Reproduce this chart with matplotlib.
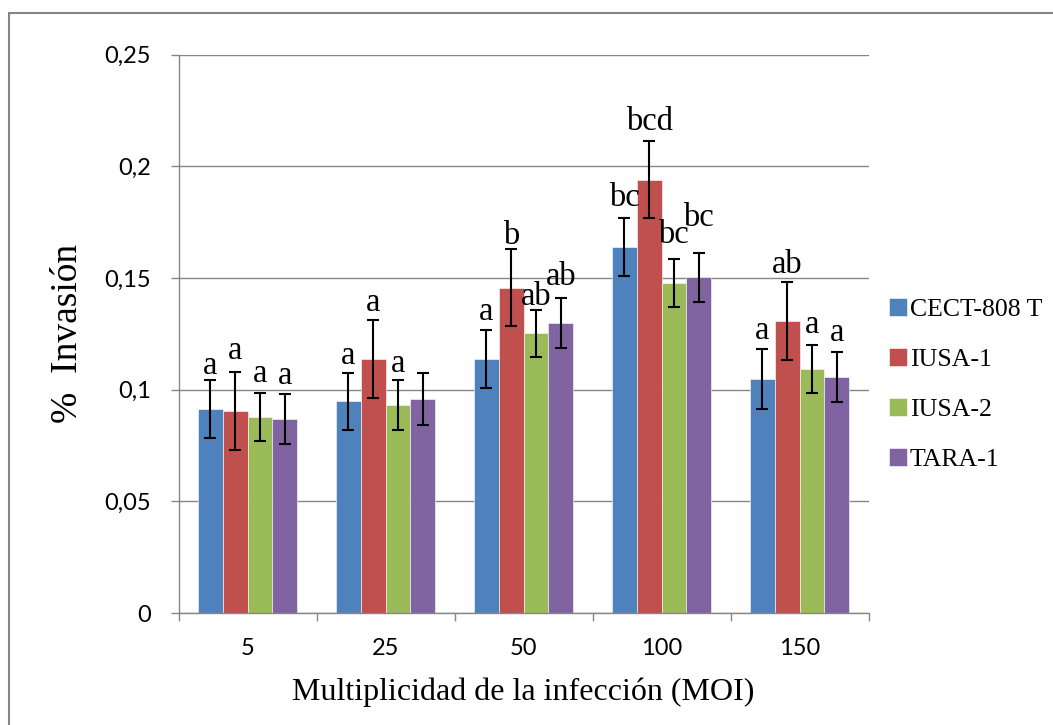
import matplotlib
matplotlib.use("Agg")
import matplotlib.pyplot as plt
from matplotlib.patches import Rectangle
import numpy as np

categories = ["5", "25", "50", "100", "150"]
series_names = ["CECT-808 T", "IUSA-1", "IUSA-2", "TARA-1"]
colors = ["#4F81BD", "#C0504D", "#9BBB59", "#8064A2"]

cect = [0.0913, 0.0948, 0.1137, 0.1637, 0.1047]
iusa1 = [0.0904, 0.1137, 0.1457, 0.1940, 0.1308]
iusa2 = [0.0877, 0.0932, 0.1253, 0.1477, 0.1092]
tara1 = [0.0868, 0.0957, 0.1298, 0.1502, 0.1056]

cect_err = [0.0130, 0.0128, 0.0129, 0.0129, 0.0134]
iusa1_err = [0.0173, 0.0174, 0.0173, 0.0173, 0.0174]
iusa2_err = [0.0107, 0.0112, 0.0105, 0.0106, 0.0106]
tara1_err = [0.0111, 0.0116, 0.0111, 0.0111, 0.0111]

# significance letters (None = no label) and their baseline heights
cect_lbl = ["a", "a", "a", "bc", "a"]
iusa1_lbl = ["a", "a", "b", "bcd", "ab"]
iusa2_lbl = ["a", "a", "ab", "bc", "a"]
tara1_lbl = ["a", None, "ab", "bc", "a"]

cect_lbl_y = [0.1071, 0.1116, 0.1313, 0.1823, 0.1228]
iusa1_lbl_y = [0.1137, 0.1354, 0.1653, 0.2161, 0.1523]
iusa2_lbl_y = [0.1032, 0.1081, 0.1380, 0.1658, 0.1254]
tara1_lbl_y = [0.1026, 0.1026, 0.1470, 0.1734, 0.1219]

yticks = [0, 0.05, 0.1, 0.15, 0.2, 0.25]
ytick_labels = ["0", "0,05", "0,1", "0,15", "0,2", "0,25"]

values = [cect, iusa1, iusa2, tara1]
errors = [cect_err, iusa1_err, iusa2_err, tara1_err]
labels = [cect_lbl, iusa1_lbl, iusa2_lbl, tara1_lbl]
label_y = [cect_lbl_y, iusa1_lbl_y, iusa2_lbl_y, tara1_lbl_y]

W, H = 1053, 725
fig = plt.figure(figsize=(W / 100, H / 100), dpi=100)
ax = fig.add_axes([178.5 / W, 1 - 613 / H, 690 / W, 558.5 / H])

gray = "#868686"
serif = "Liberation Serif"
x = np.arange(len(categories))
bw = 0.18
for i in range(4):
    pos = x + (i - 1.5) * bw
    ax.bar(pos, values[i], bw, color=colors[i], edgecolor="white", linewidth=0.4,
           label=series_names[i], zorder=2)
    ax.errorbar(pos, values[i], yerr=errors[i], fmt="none", ecolor="black",
                elinewidth=1.5, capsize=4.5, capthick=1.5, zorder=3)
    for j, t in enumerate(labels[i]):
        if t:
            ax.text(pos[j], label_y[i][j], t, ha="center", va="baseline",
                    fontsize=23.5, family=serif, zorder=4)

ax.set_xlim(-0.5, len(categories) - 0.5)
ax.set_ylim(0, 0.25)
ax.set_yticks(yticks)
ax.set_yticklabels(ytick_labels)
ax.set_xticks(x)
ax.set_xticklabels(categories)
ax.set_xticks(np.arange(len(categories) + 1) - 0.5, minor=True)
ax.tick_params(axis="x", which="major", length=0, pad=18, labelsize=17)
ax.tick_params(axis="x", which="minor", length=6, color=gray, width=1, direction="out")
ax.tick_params(axis="y", length=6, color=gray, width=1, pad=14, labelsize=17)
for lab in ax.get_xticklabels() + ax.get_yticklabels():
    lab.set_family("Lato")

ax.yaxis.grid(True, color=gray, linewidth=1)
ax.set_axisbelow(True)
for s in ["top", "right"]:
    ax.spines[s].set_visible(False)
for s in ["left", "bottom"]:
    ax.spines[s].set_color(gray)
    ax.spines[s].set_linewidth(1)

ax.set_xlabel("Multiplicidad de la infección (MOI)", fontsize=23, family=serif, labelpad=13)
ax.set_ylabel("%  Invasión", fontsize=27, family=serif, labelpad=14)

ax.legend(loc="upper left", bbox_to_anchor=(889 / W, 1 - 298 / H),
          bbox_transform=fig.transFigure, frameon=False,
          prop={"family": serif, "size": 18.5}, handlelength=0.7, handleheight=0.7,
          handletextpad=0.1, labelspacing=1.05, borderpad=0, borderaxespad=0)

fig.patches.append(Rectangle((8.5 / W, -0.1), 1.2, 1.1 - 13.5 / H,
                             transform=fig.transFigure, fill=False,
                             edgecolor=gray, linewidth=1.5))

fig.savefig("out.png", dpi=100)
